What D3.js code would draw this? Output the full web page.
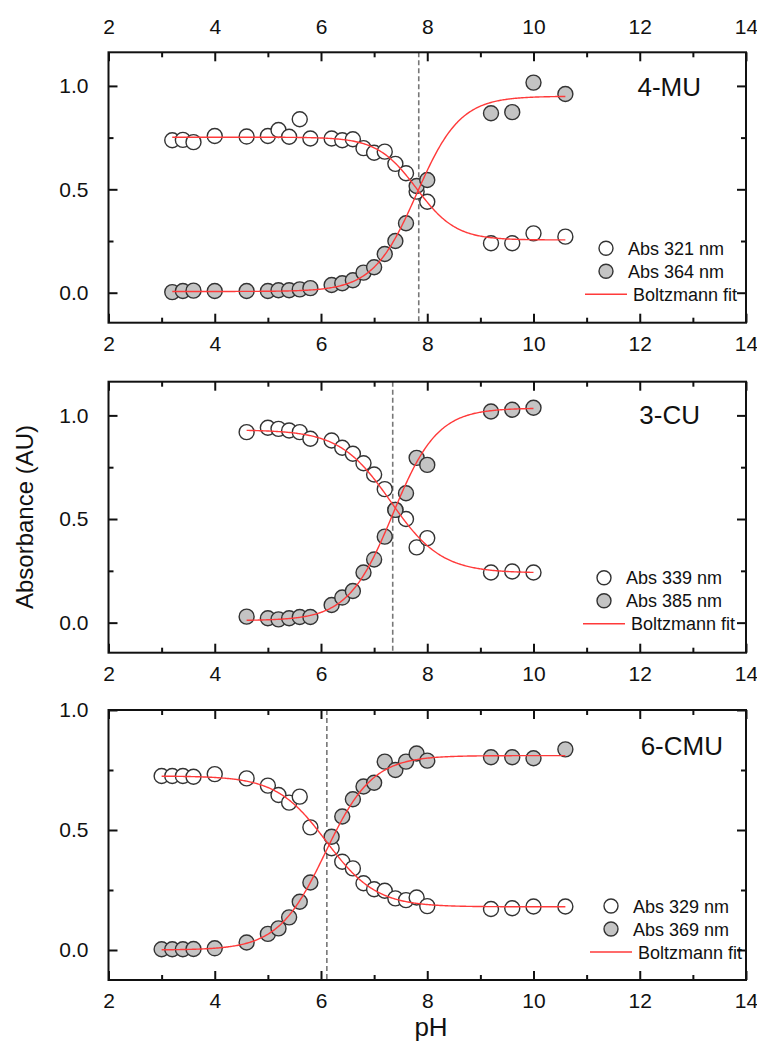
<!DOCTYPE html>
<html>
<head>
<meta charset="utf-8">
<script src="https://cdn.jsdelivr.net/npm/d3@7"></script>
<style>
  body { margin: 0; background: #fff; }
  svg { display: block; font-family: "Liberation Sans", Arial, sans-serif; }
</style>
</head>
<body>
<div id="chart"></div>
<script>
// axis ticks
const xTicks = [2, 4, 6, 8, 10, 12, 14];
const xMinor = [3, 5, 7, 9, 11, 13];
const yTicks = [0, 0.5, 1.0];
const yMinor = [0.25, 0.75];

// 4-MU
const ph4MU = [3.2, 3.4, 3.6, 4.0, 4.6, 5.0, 5.2, 5.4, 5.6, 5.8, 6.2, 6.4, 6.6, 6.8, 7.0, 7.2, 7.4, 7.6, 7.8, 8.0, 9.2, 9.6, 10.0, 10.6];
const abs321 = [0.737, 0.739, 0.728, 0.758, 0.755, 0.758, 0.787, 0.754, 0.839, 0.746, 0.746, 0.737, 0.742, 0.699, 0.677, 0.682, 0.623, 0.578, 0.489, 0.440, 0.239, 0.239, 0.287, 0.271];
const abs364 = [0.003, 0.008, 0.010, 0.008, 0.008, 0.008, 0.012, 0.012, 0.016, 0.022, 0.037, 0.046, 0.060, 0.097, 0.123, 0.187, 0.250, 0.336, 0.516, 0.545, 0.868, 0.873, 1.016, 0.961];
// Boltzmann fit parameters: A1, A2, x0, dx
const fit321 = [0.752, 0.255, 7.80, 0.37];
const fit364 = [0.006, 0.950, 7.80, 0.41];
const pKa4MU = 7.84;

// 3-CU
const ph3CU = [4.6, 5.0, 5.2, 5.4, 5.6, 5.8, 6.2, 6.4, 6.6, 6.8, 7.0, 7.2, 7.4, 7.6, 7.8, 8.0, 9.2, 9.6, 10.0];
const abs339 = [0.919, 0.940, 0.935, 0.927, 0.919, 0.887, 0.879, 0.844, 0.815, 0.769, 0.715, 0.644, 0.544, 0.500, 0.363, 0.408, 0.242, 0.247, 0.242];
const abs385 = [0.029, 0.021, 0.016, 0.021, 0.027, 0.027, 0.085, 0.121, 0.153, 0.242, 0.305, 0.415, 0.544, 0.624, 0.795, 0.761, 1.019, 1.027, 1.037];
const fit339 = [0.930, 0.240, 7.31, 0.477];
const fit385 = [0.010, 1.035, 7.35, 0.42];
const pKa3CU = 7.35;

// 6-CMU
const ph6CMU = [3.0, 3.2, 3.4, 3.6, 4.0, 4.6, 5.0, 5.2, 5.4, 5.6, 5.8, 6.2, 6.4, 6.6, 6.8, 7.0, 7.2, 7.4, 7.6, 7.8, 8.0, 9.2, 9.6, 10.0, 10.6];
const abs329 = [0.725, 0.725, 0.725, 0.722, 0.733, 0.715, 0.685, 0.646, 0.614, 0.639, 0.511, 0.424, 0.368, 0.340, 0.278, 0.253, 0.247, 0.215, 0.208, 0.219, 0.183, 0.171, 0.174, 0.181, 0.181];
const abs369 = [0.003, 0.003, 0.003, 0.004, 0.007, 0.031, 0.067, 0.090, 0.136, 0.201, 0.281, 0.472, 0.556, 0.628, 0.681, 0.697, 0.785, 0.750, 0.785, 0.819, 0.789, 0.803, 0.803, 0.799, 0.836];
const fit329 = [0.725, 0.180, 6.10, 0.47];
const fit369 = [0.000, 0.810, 6.08, 0.445];
const pKa6CMU = 6.11;

const panels = [
  { name: "4-MU", ph: ph4MU, open: abs321, filled: abs364, fitOpen: fit321, fitFilled: fit364, pKa: pKa4MU,
    labels: ["Abs 321 nm", "Abs 364 nm"], top: 52.3, bottom: 322.7, yDomain: [-0.145, 1.1625],
    topLabels: true, titleX: 701, titleDy: 44, legendDx: 0 },
  { name: "3-CU", ph: ph3CU, open: abs339, filled: abs385, fitOpen: fit339, fitFilled: fit385, pKa: pKa3CU,
    labels: ["Abs 339 nm", "Abs 385 nm"], top: 381.7, bottom: 652.7, yDomain: [-0.145, 1.1625],
    topLabels: false, titleX: 700, titleDy: 42, legendDx: -2 },
  { name: "6-CMU", ph: ph6CMU, open: abs329, filled: abs369, fitOpen: fit329, fitFilled: fit369, pKa: pKa6CMU,
    labels: ["Abs 329 nm", "Abs 369 nm"], top: 710, bottom: 980, yDomain: [-0.125, 1.0],
    topLabels: false, titleX: 723, titleDy: 45, legendDx: 5 }
];

const W = 757, H = 1045;
const left = 108.5, right = 746;
const grayFill = "#c4c4c4";
const markStroke = "#333";
const fitColor = "#ff3a3a";

const svg = d3.select("#chart").append("svg")
  .attr("width", W)
  .attr("height", H);

svg.append("rect").attr("width", W).attr("height", H).attr("fill", "#fff");

const x = d3.scaleLinear().domain([2, 14]).range([left, right]);

function boltzmann(p, v) {
  return p[1] + (p[0] - p[1]) / (1 + Math.exp((v - p[2]) / p[3]));
}

panels.forEach(p => {
  const y = d3.scaleLinear().domain(p.yDomain).range([p.bottom, p.top]);
  const g = svg.append("g");
  const h = p.bottom - p.top;

  // minor ticks
  g.append("g").attr("transform", `translate(0,${p.bottom})`)
    .call(d3.axisBottom(x).tickValues(xMinor).tickSize(-5).tickFormat(""));
  g.append("g").attr("transform", `translate(0,${p.top})`)
    .call(d3.axisTop(x).tickValues(xMinor).tickSize(-5).tickFormat(""));
  g.append("g").attr("transform", `translate(${left},0)`)
    .call(d3.axisLeft(y).tickValues(yMinor).tickSize(-5).tickFormat(""));
  g.append("g").attr("transform", `translate(${right},0)`)
    .call(d3.axisRight(y).tickValues(yMinor).tickSize(-5).tickFormat(""));

  // major ticks + labels
  g.append("g").attr("class", "ax").attr("transform", `translate(0,${p.bottom})`)
    .call(d3.axisBottom(x).tickValues(xTicks).tickSize(-9).tickPadding(13).tickFormat(d3.format("d")));
  g.append("g").attr("class", "ax").attr("transform", `translate(0,${p.top})`)
    .call(d3.axisTop(x).tickValues(xTicks).tickSize(-9).tickPadding(18)
      .tickFormat(p.topLabels ? d3.format("d") : ""));
  g.append("g").attr("class", "ax").attr("transform", `translate(${left},0)`)
    .call(d3.axisLeft(y).tickValues(yTicks).tickSize(-9).tickPadding(20).tickFormat(d3.format(".1f")));
  g.append("g").attr("transform", `translate(${right},0)`)
    .call(d3.axisRight(y).tickValues(yTicks).tickSize(-9).tickFormat(""));

  g.selectAll(".domain").remove();
  g.selectAll(".tick line").attr("stroke", "#111").attr("stroke-width", 2);
  g.selectAll(".ax text").attr("font-size", 21).attr("fill", "#111")
    .attr("font-family", "'Liberation Sans', Arial, sans-serif");

  // pKa dashed line
  g.append("line")
    .attr("x1", x(p.pKa)).attr("x2", x(p.pKa))
    .attr("y1", p.top).attr("y2", p.bottom)
    .attr("stroke", "#777").attr("stroke-width", 1.6)
    .attr("stroke-dasharray", "5,3");

  // data points
  g.append("g").selectAll("circle")
    .data(p.ph.map((v, i) => [v, p.open[i]]))
    .enter().append("circle")
    .attr("cx", d => x(d[0])).attr("cy", d => y(d[1])).attr("r", 7.5)
    .attr("fill", "#fff").attr("stroke", markStroke).attr("stroke-width", 1.4);

  g.append("g").selectAll("circle")
    .data(p.ph.map((v, i) => [v, p.filled[i]]))
    .enter().append("circle")
    .attr("cx", d => x(d[0])).attr("cy", d => y(d[1])).attr("r", 7.5)
    .attr("fill", grayFill).attr("stroke", markStroke).attr("stroke-width", 1.4);

  // Boltzmann fits over the measured pH range
  const xs = d3.range(p.ph[0], p.ph[p.ph.length - 1] + 0.001, 0.02);
  const line = d3.line().x(d => x(d)).curve(d3.curveLinear);
  [p.fitOpen, p.fitFilled].forEach(fp => {
    g.append("path")
      .attr("d", line.y(d => y(boltzmann(fp, d)))(xs))
      .attr("fill", "none").attr("stroke", fitColor).attr("stroke-width", 1.4);
  });

  // frame
  g.append("rect")
    .attr("x", left).attr("y", p.top)
    .attr("width", right - left).attr("height", h)
    .attr("fill", "none").attr("stroke", "#111").attr("stroke-width", 2);

  // panel title
  g.append("text")
    .attr("x", p.titleX).attr("y", p.top + p.titleDy)
    .attr("text-anchor", "end")
    .attr("font-size", 26).attr("fill", "#111")
    .text(p.name);

  // legend
  const lx = 606 + p.legendDx;
  const lg = g.append("g").attr("font-size", 18).attr("fill", "#111");
  lg.append("circle").attr("cx", lx).attr("cy", p.top + 196).attr("r", 7)
    .attr("fill", "#fff").attr("stroke", markStroke).attr("stroke-width", 1.4);
  lg.append("circle").attr("cx", lx).attr("cy", p.top + 219).attr("r", 7)
    .attr("fill", grayFill).attr("stroke", markStroke).attr("stroke-width", 1.4);
  lg.append("line").attr("x1", lx - 21).attr("x2", lx + 21)
    .attr("y1", p.top + 242).attr("y2", p.top + 242)
    .attr("stroke", fitColor).attr("stroke-width", 1.4);
  lg.append("text").attr("x", lx + 22).attr("y", p.top + 202.5).text(p.labels[0]);
  lg.append("text").attr("x", lx + 22).attr("y", p.top + 225.5).text(p.labels[1]);
  lg.append("text").attr("x", lx + 27).attr("y", p.top + 248.5).text("Boltzmann fit");
});

// axis titles
svg.append("text")
  .attr("x", 431).attr("y", 1036)
  .attr("text-anchor", "middle")
  .attr("font-size", 26).attr("fill", "#111")
  .text("pH");

svg.append("text")
  .attr("transform", "translate(33,517) rotate(-90)")
  .attr("text-anchor", "middle")
  .attr("font-size", 24).attr("fill", "#111")
  .text("Absorbance (AU)");
</script>
</body>
</html>
